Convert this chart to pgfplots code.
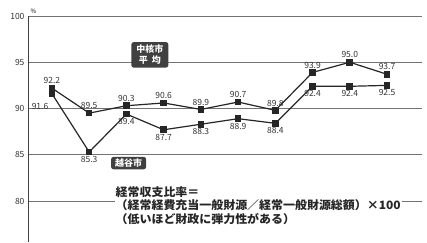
\documentclass[border=0pt]{standalone}
\usepackage{pgfplots}
\pgfplotsset{compat=1.18}
\usepackage{fontspec}
\setmainfont{Noto Sans CJK JP}
\newfontfamily\annfont[FakeStretch=1.04]{Noto Sans CJK JP}
\begin{document}
\begin{tikzpicture}[x=1pt,y=1pt]
\useasboundingbox (-28,0) rectangle (399,242);
\begin{axis}[at={(0,0)}, anchor=south west, scale only axis, width=394pt, height=226pt,
  xmin=-0.643, xmax=9.94, ymin=75.57, ymax=100,
  axis y line*=left, axis x line=none,
  ytick={80,85,90,95,100}, ymajorgrids,
  grid style={black!55, line width=0.9pt},
  tick style={draw=none},
  yticklabel style={font=\fontsize{8.5}{8.5}\selectfont, color=black!80},
  /pgf/number format/assume math mode=true,
  clip=false,
  axis line style={black!75, line width=0.9pt}]
\addplot[black!85, line width=1.2pt, mark=square*, mark size=2.7pt] coordinates {
(0,92.2)(1,89.5)(2,90.3)(3,90.6)(4,89.9)(5,90.7)(6,89.8)(7,93.9)(8,95.0)(9,93.7)};
\addplot[black!85, line width=1.2pt, mark=square*, mark size=2.7pt] coordinates {
(0,91.6)(1,85.3)(2,89.4)(3,87.7)(4,88.3)(5,88.9)(6,88.4)(7,92.4)(8,92.4)(9,92.5)};
\begin{scope}[every node/.style={font=\fontsize{8.5}{9}\selectfont, text=black!80, inner sep=1pt}]
\node[above=3pt] at (axis cs:0,92.2) {92.2};
\node[above=3pt] at (axis cs:1,89.5) {89.5};
\node[above=3pt] at (axis cs:2,90.3) {90.3};
\node[above=3pt] at (axis cs:3,90.6) {90.6};
\node[above=3pt] at (axis cs:4,89.9) {89.9};
\node[above=3pt] at (axis cs:5,90.7) {90.7};
\node[above=3pt] at (axis cs:6,89.8) {89.8};
\node[above=3pt] at (axis cs:7,93.9) {93.9};
\node[above=3pt] at (axis cs:8,95.0) {95.0};
\node[above=3pt] at (axis cs:9,93.7) {93.7};
\node at (axis cs:-0.32,90.2) {91.6};
\node[below=3pt] at (axis cs:1,85.3) {85.3};
\node[below=3pt] at (axis cs:2,89.4) {89.4};
\node[below=3pt] at (axis cs:3,87.7) {87.7};
\node[below=3pt] at (axis cs:4,88.3) {88.3};
\node[below=3pt] at (axis cs:5,88.9) {88.9};
\node[below=3pt] at (axis cs:6,88.4) {88.4};
\node[below=3pt] at (axis cs:7,92.4) {92.4};
\node[below=3pt] at (axis cs:8,92.4) {92.4};
\node[below=3pt] at (axis cs:9,92.5) {92.5};
\end{scope}
\node[anchor=south west, font=\fontsize{6}{6}\selectfont, inner sep=0pt] at (axis cs:-0.58,100.2) {\%};
\node[fill=black!75, text=white, rounded corners=2.5pt, font=\bfseries\fontsize{9}{11}\selectfont, align=center, inner xsep=5pt, inner ysep=3pt] at (axis cs:2.63,95.8) {中核市\\平\ \ 均};
\node[fill=black!75, text=white, rounded corners=2.5pt, font=\bfseries\fontsize{9}{10}\selectfont, inner xsep=4pt, inner ysep=2pt] at (axis cs:2.06,84.1) {越谷市};
\node[fill=white, anchor=north west, align=left, inner sep=1pt, font=\annfont\bfseries\fontsize{11.5}{13.5}\selectfont, text=black!85] at (axis cs:1.68,81.7) {経常収支比率＝\\（経常経費充当一般財源／経常一般財源総額）×100\\（低いほど財政に弾力性がある）};
\end{axis}
\end{tikzpicture}
\end{document}
